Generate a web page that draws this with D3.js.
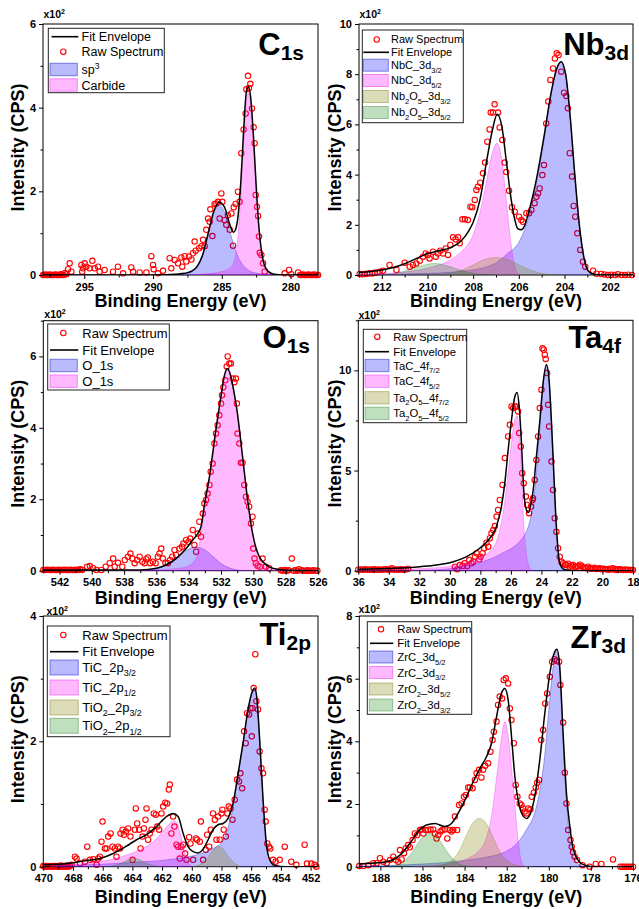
<!DOCTYPE html>
<html><head><meta charset="utf-8">
<script src="https://cdn.jsdelivr.net/npm/d3@7"></script>
<style>
body{margin:0;background:#fff;}
svg{display:block;font-family:"Liberation Sans",Arial,Helvetica,sans-serif;}
</style></head><body>
<svg id="chart" width="639" height="909"></svg>
<script>
// ---------------- DATA ----------------
// C 1s
const c1sXTicks = [295, 290, 285, 280];
const c1sYTicks = [0, 2, 4, 6];
const c1sFit = [[298,0],[291,0],[289,0.005],[288.3,0.02],[287.7,0.04],[287.2,0.09],[286.8,0.2],[286.4,0.47],[286.0,0.98],[285.6,1.5],[285.2,1.74],[284.8,1.62],[284.5,1.3],[284.3,1.1],[284.15,1.02],[284.0,1.08],[283.8,1.45],[283.6,2.3],[283.4,3.5],[283.2,4.4],[283.05,4.5],[282.9,4.25],[282.7,3.35],[282.5,2.15],[282.3,1.15],[282.1,0.55],[281.9,0.24],[281.6,0.08],[281.2,0.02],[280.5,0],[278,0]];
const c1sSp3 = [[291,0],[289,0.005],[288.3,0.015],[287.7,0.035],[287.2,0.08],[286.8,0.18],[286.4,0.45],[286.0,0.95],[285.6,1.45],[285.2,1.67],[284.8,1.5],[284.5,1.15],[284.2,0.8],[283.9,0.5],[283.6,0.3],[283.2,0.15],[282.8,0.07],[282.2,0.03],[281.4,0.01],[280.5,0]];
const c1sCarbide = [[287.5,0],[286.5,0.02],[285.5,0.05],[284.8,0.1],[284.3,0.2],[284.0,0.45],[283.8,1.0],[283.6,2.0],[283.4,3.2],[283.2,4.2],[283.05,4.35],[282.9,4.1],[282.7,3.25],[282.5,2.1],[282.3,1.1],[282.1,0.5],[281.9,0.2],[281.6,0.06],[281.2,0.01],[280.5,0]];
const c1sRaw = [[298,0],[297.9,0],[297.8,0.01],[297.7,0],[297.6,0],[297.5,0.01],[297.4,0],[297.3,0],[297.2,0],[297.1,0.01],[297,0],[296.9,0],[296.8,0],[296.7,0.02],[296.6,0],[296.5,0],[296.4,0.05],[296.3,0.02],
[296.06,0.28],[296.18,0.14],[295.94,0.08],[295.21,0.24],[295.09,0.16],[294.97,0.28],[295.15,0.08],[294.85,0.2],[294.61,0.16],[294.41,0.34],[294.24,0.16],[294.0,0.2],[293.88,0.08],[293.52,0.12],[292.91,0.08],[292.55,0.2],[292.18,0.04],[291.58,0.18],[291.45,0.08],[290.97,0.06],[290.48,0.06],[290.12,0.45],[290.0,0.24],[289.95,0.14],[289.64,0.04],[289.27,0.1],[288.79,0.4],[288.67,0.16],[288.42,0.36],[288.18,0.28],[287.94,0.42],[287.87,0.2],[287.7,0.45],[287.58,0.32],[287.38,0.44],[287.21,0.37],[287.09,0.52],[286.97,0.8],[286.9,0.58],[286.65,0.64],[286.48,0.69],[286.36,0.84],[286.24,0.69],[286.12,1.08],[286.0,1.35],[285.88,1.27],[285.83,1.57],[285.68,0.93],[285.52,1.7],[285.39,1.71],[285.27,1.75],[285.15,1.35],[285.03,1.95],[284.96,1.75],[284.79,1.31],[284.67,1.2],[284.55,1.43],[284.42,1.08],[284.3,1.47],[284.18,0.7],[284.13,1.62],[283.99,1.7],[283.82,1.99],[283.7,1.75],[283.58,2.91],[283.41,3.48],[283.26,3.86],[283.21,4.44],[283.09,4.76],[283.02,4.47],[282.92,4.57],[282.8,3.98],[282.68,3.53],[282.61,3.15],[282.53,1.91],[282.44,1.63],[282.36,1.41],[282.29,0.92],[282.24,0.53],[282.12,0.48],[282.0,0.28],[281.88,0.08],[280.42,0.04],[280.1,0.12],[279.94,0.02],[279.45,0.06],
[279.3,0],[279.2,0],[279.1,0.01],[279,0],[278.9,0],[278.8,0],[278.7,0.01],[278.6,0],[278.5,0],[278.4,0],[278.3,0.01],[278.2,0],[278.1,0],[278,0]];
const c1sLabels = [[['Fit Envelope']],[['Raw Spectrum']],[['sp'],['3','sup']],[['Carbide']]];

// Nb 3d
const nbXTicks = [212, 210, 208, 206, 204, 202];
const nbYTicks = [0, 2, 4, 6, 8, 10];
const nbFit = [[213,0.1],[212.5,0.14],[212,0.2],[211.5,0.3],[211,0.45],[210.5,0.65],[210,0.85],[209.5,0.97],[209,1.08],[208.5,1.38],[208.2,1.75],[208,2.1],[207.7,3.0],[207.4,4.6],[207.15,5.8],[206.95,6.4],[206.75,5.95],[206.55,4.55],[206.35,3.1],[206.2,2.3],[206.05,1.85],[205.9,1.8],[205.75,1.95],[205.6,2.4],[205.2,3.95],[204.9,5.5],[204.6,7.2],[204.35,8.2],[204.15,8.5],[203.95,8.0],[203.75,6.3],[203.55,4.0],[203.35,2.0],[203.15,0.7],[202.95,0.15],[202.7,0.03],[202.3,0],[201,0]];
const nbNbC32 = [[212,0.02],[210.5,0.05],[209.5,0.08],[208.5,0.15],[207.5,0.3],[207,0.48],[206.5,0.85],[206,1.3],[205.6,2.2],[205.2,3.8],[204.9,5.4],[204.6,7.15],[204.35,8.2],[204.15,8.5],[203.95,8.0],[203.75,6.3],[203.55,4.0],[203.35,2.0],[203.15,0.7],[202.95,0.15],[202.7,0.02],[202.3,0]];
const nbNbC52 = [[213,0.02],[212.5,0.03],[211.5,0.08],[210.5,0.18],[210,0.27],[209.5,0.4],[209,0.6],[208.5,0.95],[208,1.6],[207.7,2.5],[207.4,3.8],[207.15,4.9],[206.95,5.25],[206.75,4.6],[206.55,3.0],[206.35,1.3],[206.2,0.4],[206.05,0.05],[205.9,0]];
const nbOx32 = [[210,0],[209.5,0.01],[209,0.06],[208.5,0.2],[208,0.4],[207.5,0.62],[207,0.7],[206.5,0.62],[206,0.4],[205.5,0.2],[205,0.06],[204.5,0.01],[204,0]];
const nbOx52 = [[212.5,0],[212,0.01],[211.5,0.05],[211,0.15],[210.5,0.3],[210,0.43],[209.7,0.46],[209.4,0.43],[208.9,0.3],[208.4,0.15],[207.9,0.05],[207.4,0.01],[207,0]];
const nbRaw = [[212.97,0.04],[212.86,0.03],[212.75,0.04],[212.64,0.05],[212.53,0.07],[212.42,0.06],[212.31,0.09],[212.2,0.1],[212.09,0.13],[211.95,0.17],[211.66,0.4],[211.36,0.2],[211.0,0.49],[210.78,0.33],[210.64,0.4],[210.49,0.46],[210.34,0.57],[210.2,0.73],[210.08,0.86],[209.98,0.8],[209.91,0.66],[209.76,0.93],[209.64,0.73],[209.54,0.86],[209.44,0.97],[209.32,0.86],[209.2,1.06],[209.1,0.8],[209.0,1.2],[208.88,1.5],[208.77,1.42],[208.66,1.5],[208.59,1.26],[208.47,2.22],[208.36,2.22],[208.23,2.19],[208.12,2.72],[208.04,2.7],[207.93,2.99],[207.86,3.39],[207.79,3.52],[207.69,3.68],[207.57,4.05],[207.48,4.48],[207.38,5.31],[207.28,5.8],[207.23,6.47],[207.13,6.47],[207.06,6.8],[206.91,6.47],[206.84,5.88],[206.72,5.38],[206.62,4.48],[206.55,4.1],[206.43,3.36],[206.3,2.7],[206.18,2.52],[205.99,2.32],[205.89,2.19],[205.82,2.12],[205.67,2.46],[205.55,2.46],[205.45,2.59],[205.31,2.86],[205.23,3.12],[205.16,3.25],[205.09,3.45],[204.97,3.98],[204.9,4.38],[204.8,6.04],[204.71,6.91],[204.62,7.77],[204.5,8.23],[204.42,8.63],[204.34,8.83],[204.26,8.76],[204.14,8.1],[204.02,7.26],[203.92,7.13],[203.85,6.64],[203.77,4.85],[203.67,3.92],[203.6,2.75],[203.53,2.32],[203.44,1.66],[203.31,1.0],[203.19,0.53],[203.09,0.33],[202.75,0.17],[202.6,0.05],[202.39,0.04],[202.25,0.02],[202.1,0],[201.95,0.01],[201.8,0],[201.66,0.03],[201.5,0],[201.35,0],[201.2,0.01],[201.05,0]];
const nbLabels = [[['Raw Spectrum']],[['Fit Envelope']],[['NbC_3d'],['3/2','sub']],[['NbC_3d'],['5/2','sub']],[['Nb'],['2','sub'],['O'],['5','sub'],['_3d'],['3/2','sub']],[['Nb'],['2','sub'],['O'],['5','sub'],['_3d'],['5/2','sub']]];

// O 1s
const oXTicks = [542, 540, 538, 536, 534, 532, 530, 528, 526];
const oYTicks = [0, 2, 4, 6];
const oFit = [[543,0.02],[537,0.02],[536,0.07],[535.4,0.16],[534.78,0.34],[534.16,0.62],[533.75,0.86],[533.44,1.04],[533.24,1.23],[533.03,1.84],[532.72,2.63],[532.31,3.98],[532.0,4.9],[531.8,5.45],[531.6,5.66],[531.4,5.45],[531.2,5.0],[531.0,4.45],[530.67,3.2],[530.36,2.0],[530.05,1.05],[529.64,0.4],[529.02,0.11],[528.5,0.04],[527.8,0.01],[526,0]];
const oPeakA = [[537,0],[536.3,0.03],[535.8,0.08],[535.3,0.2],[534.8,0.36],[534.3,0.52],[533.8,0.64],[533.5,0.66],[533.0,0.58],[532.5,0.4],[532,0.2],[531.5,0.08],[531,0.02],[530.5,0]];
const oPeakB = [[538,0],[537,0.01],[536,0.02],[535,0.05],[534.2,0.1],[533.6,0.3],[533.35,0.7],[533.15,1.3],[532.95,1.95],[532.72,2.55],[532.31,3.9],[532.0,4.85],[531.8,5.4],[531.6,5.62],[531.4,5.43],[531.2,5.0],[531.0,4.45],[530.67,3.2],[530.36,2.0],[530.05,1.05],[529.64,0.4],[529.02,0.11],[528.5,0.04],[527.8,0]];
const oRaw = [[543,0.02],[542.88,0.02],[542.76,0.03],[542.64,0.02],[542.52,0.02],[542.4,0.03],[542.28,0.02],[542.16,0.02],[542.04,0.03],[541.92,0.02],[541.8,0.02],[541.68,0.03],[541.56,0.02],[541.44,0.02],[541.32,0.03],[541.2,0.02],[541.08,0.02],[540.96,0.03],[540.84,0.02],[540.72,0.04],[540.6,0.02],
[540.29,0.11],[540.12,0.13],[539.92,0.07],[539.71,0.02],[539.4,0.02],[539.14,0.11],[538.89,0.21],[538.68,0.34],[538.58,0.11],[538.38,0.22],[538.11,0.11],[537.96,0.3],[537.76,0.39],[537.61,0.48],[537.49,0.34],[537.35,0.21],[537.2,0.3],[537.04,0.39],[536.87,0.25],[536.73,0.21],[536.63,0.32],[536.53,0.37],[536.38,0.21],[536.22,0.25],[536.05,0.21],[535.91,0.39],[535.81,0.48],[535.7,0.62],[535.6,0.34],[535.44,0.22],[535.29,0.21],[535.15,0.3],[535.02,0.39],[534.88,0.58],[534.78,0.44],[534.57,0.62],[534.41,0.67],[534.33,0.76],[534.16,0.86],[534.0,0.81],[533.91,0.9],[533.75,1.14],[533.65,0.72],[533.54,0.53],[533.44,1.04],[533.34,1.37],[533.24,0.95],[533.13,1.6],[533.03,1.88],[532.93,1.98],[532.83,2.16],[532.72,2.4],[532.64,2.77],[532.52,3.0],[532.41,3.56],[532.31,3.84],[532.21,4.07],[532.11,4.35],[532.0,4.68],[531.94,4.91],[531.86,5.14],[531.74,5.33],[531.65,5.72],[531.59,6.0],[531.49,5.8],[531.39,5.8],[531.28,5.38],[531.18,5.28],[531.08,5.38],[531.02,4.68],[530.98,3.84],[530.87,3.56],[530.77,3.02],[530.67,3.02],[530.56,2.4],[530.46,2.07],[530.36,1.93],[530.26,1.79],[530.15,1.32],[530.05,1.51],[530.01,0.62],[529.93,0.34],[529.85,0.21],[529.74,0.14],[529.6,0.11],[529.43,0.34],[529.23,0.11],[529.02,0.07],[527.62,0.34],
[528.3,0.01],[528.18,0],[528.06,0.02],[527.94,0],[527.82,0.01],[527.5,0],[527.38,0.02],[527.26,0],[527.17,0.04],[527.02,0.01],[526.9,0],[526.76,0],[526.64,0.01],[526.52,0],[526.4,0],[526.28,0.01],[526.16,0],[526.04,0]];
const oLabels = [[['Raw Spectrum']],[['Fit Envelope']],[['O_1s']],[['O_1s']]];

// Ta 4f
const taXTicks = [36, 34, 32, 30, 28, 26, 24, 22, 20, 18];
const taYTicks = [0, 5, 10];
const taFit = [[36,0.07],[33.5,0.12],[31.96,0.2],[30.87,0.28],[29.78,0.45],[28.9,0.7],[28.04,1.12],[27.38,1.62],[26.95,2.2],[26.62,3.2],[26.4,4.37],[26.18,6.03],[25.96,7.53],[25.74,8.7],[25.59,8.9],[25.46,8.2],[25.31,6.37],[25.16,4.03],[24.98,3.03],[24.85,2.9],[24.72,3.2],[24.54,4.03],[24.33,5.7],[24.1,7.53],[23.89,9.37],[23.67,10.28],[23.5,9.53],[23.34,7.37],[23.19,4.87],[23.02,2.2],[22.89,0.87],[22.76,0.28],[22.54,0.07],[21.93,0],[18,0]];
const taTaC72 = [[32,0.02],[31,0.04],[30,0.1],[29,0.22],[28,0.42],[27,0.7],[26.5,0.9],[26,1.1],[25.5,1.4],[25,1.95],[24.8,2.35],[24.6,3.1],[24.4,4.3],[24.2,6.2],[24.0,8.3],[23.85,9.6],[23.67,10.28],[23.5,9.5],[23.34,7.37],[23.19,4.87],[23.02,2.2],[22.89,0.87],[22.76,0.28],[22.54,0.05],[22.3,0]];
const taTaC52 = [[36,0.02],[34,0.04],[32,0.1],[30.87,0.15],[29.78,0.25],[28.9,0.42],[28.04,0.68],[27.38,0.97],[26.95,1.45],[26.62,2.4],[26.4,3.45],[26.18,4.9],[25.96,6.4],[25.74,7.55],[25.59,7.75],[25.46,6.9],[25.31,5.0],[25.16,2.3],[25.0,0.9],[24.85,0.3],[24.7,0.05],[24.5,0]];
const taRaw = [[36,0.05],[35.85,0.06],[35.7,0.05],[35.55,0.07],[35.4,0.05],[35.25,0.06],[35.1,0.05],[34.95,0.07],[34.8,0.05],[34.65,0.06],[34.5,0.05],[34.35,0.06],[34.2,0.07],[34.05,0.05],[33.9,0.06],[33.8,0.12],[33.65,0.05],[33.5,0.06],[33.35,0.05],[33.2,0.07],[33.05,0.05],[32.9,0.06],[32.74,0.1],
[29.67,0.2],[29.52,0.07],[29.35,0.28],[29.17,0.23],[29.02,0.37],[28.87,0.23],[28.73,0.53],[28.58,0.37],[28.47,0.45],[28.36,0.7],[28.25,0.87],[28.08,0.57],[27.99,0.7],[27.86,0.87],[27.75,1.12],[27.6,1.4],[27.49,1.2],[27.38,1.62],[27.27,1.87],[27.16,2.03],[27.05,2.23],[26.94,2.7],[26.84,3.03],[26.73,3.53],[26.55,4.28],[26.4,5.62],[26.18,6.7],[26.07,7.28],[25.96,8.2],[25.85,8.12],[25.74,8.2],[25.64,8.2],[25.53,7.95],[25.46,6.87],[25.35,6.2],[25.26,4.87],[25.16,4.37],[25.02,3.7],[24.94,3.28],[24.81,2.87],[24.68,3.2],[24.59,3.53],[24.55,3.62],[24.44,4.53],[24.33,5.53],[24.22,6.7],[24.11,8.12],[24.0,9.03],[23.93,11.1],[23.85,11.03],[23.78,10.78],[23.72,10.57],[23.63,9.87],[23.56,8.28],[23.5,7.2],[23.34,5.45],[23.24,4.03],[23.13,2.62],[23.02,1.95],[22.91,1.12],[22.8,0.7],[22.69,0.45],[22.58,0.37],[22.47,0.3],
[22.36,0.28],[22.25,0.35],[22.14,0.2],[22.03,0.25],[21.93,0.28],[21.82,0.18],[21.71,0.2],[21.6,0.22],[21.49,0.3],[21.38,0.25],[21.27,0.17],[21.16,0.15],[21.05,0.12],[20.94,0.2],[20.83,0.12],[20.72,0.1],[20.62,0.12],[20.51,0.15],[20.4,0.08],[20.29,0.1],[20.18,0.12],[20.07,0.07],[19.96,0.1],[19.85,0.08],[19.74,0.07],[19.63,0.05],[19.52,0.1],[19.42,0.06],[19.31,0.12],[19.2,0.06],[19.09,0.04],[18.98,0.07],[18.87,0.07],[18.76,0.05],[18.65,0.04],[18.54,0.06],[18.43,0.03],[18.32,0.05],[18.21,0.03],[18.1,0.04],[18.0,0.03]];
const taLabels = [[['Raw Spectrum']],[['Fit Envelope']],[['TaC_4f'],['7/2','sub']],[['TaC_4f'],['5/2','sub']],[['Ta'],['2','sub'],['O'],['5','sub'],['_4f'],['7/2','sub']],[['Ta'],['2','sub'],['O'],['5','sub'],['_4f'],['5/2','sub']]];

// Ti 2p
const tiXTicks = [470, 468, 466, 464, 462, 460, 458, 456, 454, 452];
const tiYTicks = [0, 2, 4];
const tiFit = [[470,0.03],[468.43,0.05],[467.09,0.1],[466.19,0.13],[465.29,0.21],[464.39,0.33],[463.72,0.43],[463.05,0.51],[462.38,0.64],[461.7,0.8],[461.26,0.85],[460.92,0.8],[460.58,0.53],[460.25,0.32],[459.91,0.24],[459.57,0.22],[459.24,0.28],[458.9,0.43],[458.57,0.59],[458.23,0.67],[457.89,0.69],[457.56,0.77],[457.22,1.01],[456.88,1.49],[456.55,1.97],[456.21,2.51],[455.92,2.8],[455.76,2.85],[455.61,2.67],[455.43,2.03],[455.2,1.07],[454.98,0.37],[454.75,0.11],[454.42,0.02],[453.63,0],[451.5,0]];
const tiTiC32 = [[469,0.02],[466,0.04],[464,0.07],[462,0.1],[460.5,0.15],[459.5,0.2],[458.5,0.3],[458,0.38],[457.56,0.62],[457.22,0.95],[456.9,1.42],[456.55,1.95],[456.21,2.5],[455.92,2.78],[455.76,2.84],[455.61,2.67],[455.43,2.03],[455.2,1.07],[454.98,0.37],[454.75,0.11],[454.42,0.02],[454,0]];
const tiTiC12 = [[469.5,0.01],[468,0.03],[467,0.06],[466,0.09],[465,0.14],[464,0.22],[463.5,0.27],[463,0.33],[462.5,0.42],[462,0.55],[461.6,0.66],[461.25,0.73],[461.0,0.7],[460.8,0.55],[460.55,0.3],[460.3,0.1],[460.1,0.02],[459.9,0]];
const tiOx32 = [[460,0],[459.5,0.03],[459,0.12],[458.6,0.25],[458.25,0.33],[457.9,0.28],[457.5,0.15],[457.1,0.05],[456.7,0]];
const tiOx12 = [[466,0],[465.2,0.02],[464.7,0.06],[464.3,0.11],[463.9,0.13],[463.5,0.11],[463.1,0.06],[462.6,0.02],[462,0]];
const tiRaw = [[470,0.01],[469.9,0],[469.8,0.01],[469.7,0],[469.6,0.01],[469.5,0],[469.4,0.01],[469.3,0],[469.2,0.01],[469.1,0],[469,0.01],[468.9,0],[468.8,0.02],[468.7,0],[468.6,0.01],[468.5,0],[468.4,0.02],[468.3,0],[468.2,0.01],[468.1,0.03],
[467.87,0.16],[467.76,0.13],[467.53,0.05],[467.2,0.08],[467.04,0.32],[466.86,0.11],[466.64,0.12],[466.41,0.03],[466.3,0.13],[466.19,0.16],[466.08,0.4],[466.01,0.72],[465.85,0.29],[465.74,0.29],[465.63,0.48],[465.47,0.53],[465.34,0.32],[465.18,0.29],[465.07,0.16],[464.96,0.32],[464.84,0.29],[464.8,0.53],[464.66,0.59],[464.57,0.51],[464.44,0.56],[464.28,0.61],[464.13,0.48],[463.99,0.11],[463.83,0.59],[463.77,0.93],[463.68,0.69],[463.54,0.59],[463.45,0.29],[463.32,0.48],[463.23,0.61],[463.12,0.75],[463.05,0.93],[462.94,0.43],[462.83,0.53],[462.71,0.59],[462.56,0.85],[462.42,0.83],[462.33,0.64],[462.2,0.59],[462.04,0.85],[461.93,0.96],[461.79,1.02],[461.66,1.01],[461.55,1.23],[461.48,1.31],[461.37,0.53],[461.26,0.8],[461.17,0.64],[461.03,0.35],[460.92,0.32],[460.81,0.13],[460.7,0.32],[460.58,0.35],[460.45,0.21],[460.36,0.11],[460.18,0.47],[460.09,0.37],[459.91,0.11],[459.73,0.45],[459.64,0.43],[459.46,0.4],[459.39,0.72],[459.24,0.11],[459.06,0.27],[458.97,0.51],[458.83,0.32],[458.72,0.59],[458.57,0.85],[458.45,0.75],[458.34,0.43],[458.23,0.8],[458.12,0.43],[458.0,0.85],[457.94,0.91],[457.85,0.59],[457.71,0.48],[457.6,0.85],[457.51,0.96],[457.4,0.93],[457.26,0.75],[457.11,1.07],[456.95,1.39],[456.82,1.36],[456.73,1.49],[456.61,1.25],[456.48,2.16],[456.37,1.97],[456.28,2.45],[456.14,2.43],[456.05,2.53],[455.96,2.08],[455.92,2.53],[455.83,2.85],[455.72,3.39],[455.65,2.64],[455.54,2.51],[455.43,1.84],[455.31,1.57],[455.2,1.49],[455.09,0.91],[455.02,0.72],[454.91,0.37],[454.8,0.32],[454.71,0.29],[454.53,0.11],[454.35,0.08],[454.08,0.11],[453.74,0.32],[453.3,0.08],[452.96,0.03],[452.4,0.35],[452.24,0.05],[451.95,0.05],[451.73,0.03],[451.61,0]];
const tiLabels = [[['Raw Spectrum']],[['Fit Envelope']],[['TiC_2p'],['3/2','sub']],[['TiC_2p'],['1/2','sub']],[['TiO'],['2','sub'],['_2p'],['3/2','sub']],[['TiO'],['2','sub'],['_2p'],['1/2','sub']]];

// Zr 3d
const zrXTicks = [188, 186, 184, 182, 180, 178, 176];
const zrYTicks = [0, 2, 4, 6, 8];
const zrFit = [[189,0.09],[187.7,0.16],[187.07,0.37],[186.6,0.74],[186.2,1.12],[185.81,1.33],[185.41,1.38],[184.94,1.28],[184.62,1.38],[184.22,1.81],[183.91,2.23],[183.59,2.71],[183.27,3.14],[182.96,3.51],[182.72,3.94],[182.48,4.79],[182.25,5.53],[182.09,5.69],[181.93,5.32],[181.77,4.15],[181.61,2.87],[181.41,1.97],[181.22,1.62],[181.06,1.54],[180.87,1.7],[180.67,2.23],[180.43,3.4],[180.19,4.89],[179.95,6.17],[179.72,6.86],[179.61,6.94],[179.48,6.38],[179.32,4.26],[179.16,2.34],[179.0,1.28],[178.85,0.59],[178.61,0.21],[178.29,0.05],[177.74,0],[176,0]];
const zrZrC52 = [[189,0.02],[188,0.03],[186.5,0.07],[185,0.13],[184,0.2],[183,0.3],[182,0.5],[181.5,0.75],[181,1.25],[180.7,1.65],[180.45,2.35],[180.2,3.5],[180.0,5.0],[179.8,6.35],[179.64,6.94],[179.5,6.45],[179.35,4.4],[179.2,2.5],[179.05,1.15],[178.9,0.5],[178.75,0.2],[178.5,0.04],[178.2,0]];
const zrZrC32 = [[186.5,0],[186,0.02],[185.3,0.05],[184.5,0.12],[183.8,0.28],[183.4,0.45],[183.0,0.85],[182.7,1.7],[182.45,3.0],[182.25,4.1],[182.08,4.63],[181.9,4.0],[181.75,3.0],[181.6,1.9],[181.45,0.8],[181.3,0.15],[181.15,0.02],[181,0]];
const zrOx52 = [[186,0],[185.2,0.03],[184.7,0.15],[184.3,0.45],[183.95,0.95],[183.6,1.4],[183.3,1.54],[183.0,1.4],[182.65,0.95],[182.3,0.45],[181.9,0.15],[181.4,0.03],[180.8,0]];
const zrOx32 = [[188,0],[187.3,0.03],[186.9,0.15],[186.5,0.45],[186.1,0.85],[185.65,1.06],[185.2,0.85],[184.8,0.45],[184.4,0.15],[184.0,0.03],[183.5,0]];
const zrRaw = [[189.0,0.02],[188.81,0.02],[188.57,0.05],[188.34,0.11],[188.18,0.11],[188.02,0.27],[187.86,0.16],[187.7,0.11],[187.54,0.21],[187.39,0.32],[187.26,0.21],[187.15,0.16],[187.07,0.53],[186.99,0.23],[186.88,0.43],[186.79,0.59],[186.68,0.69],[186.6,0.62],[186.47,0.85],[186.36,1.06],[186.25,1.01],[186.12,1.17],[186.04,1.19],[185.96,1.06],[185.84,1.17],[185.73,1.17],[185.62,1.19],[185.49,1.19],[185.41,1.06],[185.33,0.9],[185.25,1.01],[185.14,1.12],[185.05,1.17],[184.94,1.19],[184.82,0.9],[184.7,1.17],[184.62,1.12],[184.54,1.17],[184.46,1.6],[184.35,1.17],[184.26,1.97],[184.14,2.02],[184.03,2.23],[183.94,2.29],[183.83,2.53],[183.75,2.53],[183.62,2.5],[183.51,2.77],[183.43,2.98],[183.31,3.09],[183.2,2.85],[183.12,3.09],[183.02,3.22],[182.88,3.3],[182.77,3.67],[182.67,4.04],[182.61,4.31],[182.48,4.63],[182.41,5.16],[182.33,5.43],[182.22,5.37],[182.14,5.96],[182.04,6.01],[181.93,5.85],[181.85,5.05],[181.77,4.68],[181.66,3.94],[181.57,2.61],[181.49,2.23],[181.38,2.02],[181.3,1.97],[181.22,1.86],[181.14,1.76],[181.06,1.7],[180.98,1.86],[180.87,1.83],[180.81,2.23],[180.71,2.36],[180.62,2.53],[180.55,2.68],[180.46,2.77],[180.36,4.04],[180.27,4.36],[180.17,5.21],[180.08,5.53],[179.95,6.06],[179.84,6.54],[179.73,6.62],[179.62,6.57],[179.51,6.54],[179.45,5.8],[179.32,4.6],[179.24,3.0],[179.16,2.02],[179.08,1.17],[178.97,0.85],[178.91,0.64],[178.85,0.46],[178.77,0.32],[178.66,0.21],[178.4,0.05],[178.06,0],[177.77,0.09],[177.5,0.09],[176.95,0.23],[176.6,0],[176.5,0],[176.4,0],[176.3,0],[176.2,0],[176.1,0],[176.0,0]];
const zrLabels = [[['Raw Spectrum']],[['Fit Envelope']],[['ZrC_3d'],['5/2','sub']],[['ZrC_3d'],['3/2','sub']],[['ZrO'],['2','sub'],['_3d'],['5/2','sub']],[['ZrO'],['2','sub'],['_3d'],['3/2','sub']]];

const xAxisTitle = 'Binding Energy (eV)';
const yAxisTitle = 'Intensity (CPS)';

// ---------------- STYLE ----------------
const FILL = {blue:'rgba(0,0,255,0.27)', pink:'rgba(255,0,255,0.27)', olive:'rgba(128,128,0,0.28)', green:'rgba(0,128,0,0.25)'};
const EDGE = {blue:'rgba(0,0,200,0.45)', pink:'rgba(230,0,230,0.4)', olive:'rgba(110,110,0,0.4)', green:'rgba(0,110,0,0.35)'};

const panels = [
 {left:43, top:24, w:275, h:251, xd:[298,278], yd:[0,6], xt:c1sXTicks, xm:2.5, yt:c1sYTicks, ym:1,
  fit:c1sFit, raw:c1sRaw, comps:[[c1sSp3,'blue'],[c1sCarbide,'pink']],
  title:['C','1s'], tx:304, ty:55, xtY:307, ytX:23.5, mult:[43.5,18],
  leg:{box:[48.3,28.3,164.3,92.7], fs:12.5, lx:[51.5,78.3], cx:63.3, tx:81.5, ph:12.5, px:[50,77.3],
       rows:[['line',36.7],['circle',51.7],['patch',69.5,'blue'],['patch',85,'pink']], labels:c1sLabels}},
 {left:359, top:24, w:274, h:251, xd:[213,201], yd:[0,10], xt:nbXTicks, xm:1, yt:nbYTicks, ym:1,
  fit:nbFit, raw:nbRaw, comps:[[nbNbC32,'blue'],[nbNbC52,'pink'],[nbOx32,'olive'],[nbOx52,'green']],
  title:['Nb','3d'], tx:629, ty:55, xtY:307, ytX:341, mult:[359.5,18],
  leg:{box:[362.3,30,463.3,122.7], fs:11, lx:[363.3,389], cx:376.7, tx:391, ph:12, px:[363.3,388.3],
       rows:[['circle',39.5],['line',52.3],['patch',65.2,'blue'],['patch',80.5,'pink'],['patch',96.5,'olive'],['patch',112.5,'green']], labels:nbLabels}},
 {left:43.3, top:320.7, w:274.7, h:250, xd:[543,526], yd:[0,7], xt:oXTicks, xm:1, yt:oYTicks, ym:1,
  fit:oFit, raw:oRaw, comps:[[oPeakA,'blue'],[oPeakB,'pink']],
  title:['O','1s'], tx:310, ty:348.3, xtY:603.5, ytX:23.5, mult:[44.3,318],
  leg:{box:[47.7,324,169.3,390], fs:13, lx:[50,78.3], cx:63.3, tx:82.3, ph:12.5, px:[50,77.3],
       rows:[['circle',333],['line',350],['patch',365.5,'blue'],['patch',381.2,'pink']], labels:oLabels}},
 {left:358.3, top:320.3, w:274.7, h:250.4, xd:[36,18], yd:[0,12.5], xt:taXTicks, xm:1, yt:taYTicks, ym:2.5,
  fit:taFit, raw:taRaw, comps:[[taTaC72,'blue'],[taTaC52,'pink']],
  title:['Ta','4f'], tx:621, ty:348.3, xtY:603.5, ytX:341, mult:[358.5,318.5],
  leg:{box:[363.3,329.3,466.7,422.7], fs:11.3, lx:[365,389], cx:377.3, tx:393.3, ph:12.3, px:[365,389],
       rows:[['circle',336.7],['line',351.7],['patch',365.5,'blue'],['patch',381.2,'pink'],['patch',397.8,'olive'],['patch',413.3,'green']], labels:taLabels}},
 {left:43.3, top:616, w:274.7, h:250.7, xd:[470,451.5], yd:[0,4], xt:tiXTicks, xm:1, yt:tiYTicks, ym:1,
  fit:tiFit, raw:tiRaw, comps:[[tiTiC32,'blue'],[tiTiC12,'pink'],[tiOx32,'olive'],[tiOx12,'green']],
  title:['Ti','2p'], tx:311, ty:645, xtY:903, ytX:23.5, mult:[46.5,615],
  leg:{box:[47.3,626,170,736.7], fs:13, lx:[50,78.3], cx:63.3, tx:82.3, ph:15, px:[50,78.3],
       rows:[['circle',635],['line',651.7],['patch',667.5,'blue'],['patch',687.5,'pink'],['patch',707.5,'olive'],['patch',725.8,'green']], labels:tiLabels}},
 {left:359.3, top:616, w:273.7, h:250.7, xd:[189,176], yd:[0,8], xt:zrXTicks, xm:1, yt:zrYTicks, ym:1,
  fit:zrFit, raw:zrRaw, comps:[[zrZrC52,'blue'],[zrZrC32,'pink'],[zrOx52,'olive'],[zrOx32,'green']],
  title:['Zr','3d'], tx:626, ty:648.3, xtY:903, ytX:341, mult:[358.5,613],
  leg:{box:[367.3,621.7,471.7,714.3], fs:11.3, lx:[370,393.3], cx:381, tx:397.3, ph:12, px:[369.3,392.7],
       rows:[['circle',629.3],['line',643.3],['patch',657,'blue'],['patch',672.5,'pink'],['patch',689,'olive'],['patch',705,'green']], labels:zrLabels}}
];

const svg = d3.select('#chart');
svg.append('rect').attr('width',639).attr('height',909).attr('fill','#fff');

function addSegs(textSel, segs, size){
  let shift = 0;
  segs.forEach(s => {
    const kind = s[1] || 'n';
    const target = kind === 'sub' ? size*0.32 : (kind === 'sup' ? -size*0.42 : 0);
    const t = textSel.append('tspan').text(s[0]).attr('dy', (target - shift).toFixed(2));
    if (kind !== 'n') t.attr('font-size', (size*0.68).toFixed(2));
    shift = target;
  });
}

panels.forEach((p, i) => {
  const g = svg.append('g').attr('transform', `translate(${p.left},${p.top})`);
  const x = d3.scaleLinear().domain(p.xd).range([0, p.w]);
  const y = d3.scaleLinear().domain(p.yd).range([p.h, 0]);
  const clipId = 'clip' + i;
  svg.append('clipPath').attr('id', clipId).append('rect')
     .attr('x', p.left).attr('y', p.top).attr('width', p.w).attr('height', p.h);
  const plot = svg.append('g').attr('clip-path', `url(#${clipId})`)
     .append('g').attr('transform', `translate(${p.left},${p.top})`);

  const sortDesc = arr => arr.slice().sort((a,b) => b[0]-a[0]);
  const area = d3.area().x(d => x(d[0])).y0(y(0)).y1(d => y(d[1])).curve(d3.curveMonotoneX);
  const line = d3.line().x(d => x(d[0])).y(d => y(d[1])).curve(d3.curveMonotoneX);

  p.comps.forEach(([data, col]) => {
    plot.append('path').datum(sortDesc(data)).attr('d', area)
      .attr('fill', FILL[col]).attr('stroke', EDGE[col]).attr('stroke-width', 0.7);
  });
  plot.append('path').datum(sortDesc(p.fit)).attr('d', line)
    .attr('fill', 'none').attr('stroke', '#000').attr('stroke-width', 1.5);

  // raw spectrum
  g.append('g').selectAll('circle').data(p.raw).join('circle')
    .attr('cx', d => x(d[0])).attr('cy', d => y(d[1])).attr('r', 2.7)
    .attr('fill', 'none').attr('stroke', '#ff0000').attr('stroke-width', 1.1);

  // frame
  g.append('rect').attr('width', p.w).attr('height', p.h).attr('fill', 'none')
    .attr('stroke', '#000').attr('stroke-width', 1);

  // axes
  const fmt = d3.format('d');
  const xMin = Math.min(...p.xd), xMax = Math.max(...p.xd);
  const xMinor = d3.range(Math.ceil(xMin/p.xm)*p.xm, xMax + 1e-9, p.xm).filter(v => !p.xt.some(t => Math.abs(t-v) < 1e-6));
  const yMinor = d3.range(p.ym, p.yd[1] + 1e-9, p.ym).filter(v => !p.yt.some(t => Math.abs(t-v) < 1e-6));

  g.append('g').attr('transform', `translate(0,${p.h})`)
    .call(d3.axisBottom(x).tickValues(p.xt).tickFormat(fmt).tickSize(4).tickSizeOuter(0).tickPadding(4));
  g.append('g').attr('transform', `translate(0,${p.h})`)
    .call(d3.axisBottom(x).tickValues(xMinor).tickFormat('').tickSize(2.5).tickSizeOuter(0));
  g.append('g')
    .call(d3.axisLeft(y).tickValues(p.yt).tickFormat(fmt).tickSize(4).tickSizeOuter(0).tickPadding(3));
  g.append('g')
    .call(d3.axisLeft(y).tickValues(yMinor).tickFormat('').tickSize(2.5).tickSizeOuter(0));
  g.selectAll('.domain').remove();
  g.selectAll('.tick line').attr('stroke', '#000').attr('stroke-width', 1);
  g.selectAll('.tick text').attr('font-family', '"Liberation Sans",Arial,sans-serif')
    .attr('font-weight', 'bold').attr('font-size', 11).attr('fill', '#000');

  // multiplier
  const mt = svg.append('text').attr('x', p.mult[0]).attr('y', p.mult[1])
    .attr('font-weight', 'bold').attr('font-size', 10.5).attr('fill', '#000');
  mt.append('tspan').text('x10');
  mt.append('tspan').text('2').attr('font-size', 7).attr('dy', -4);

  // title
  const tt = svg.append('text').attr('x', p.tx).attr('y', p.ty).attr('text-anchor', 'end')
    .attr('font-weight', 'bold').attr('font-size', 31).attr('fill', '#000');
  tt.append('tspan').text(p.title[0]);
  tt.append('tspan').text(p.title[1]).attr('font-size', 21).attr('dy', 5);

  // axis titles
  svg.append('text').attr('x', p.left + p.w/2).attr('y', p.xtY).attr('text-anchor', 'middle')
    .attr('font-weight', 'bold').attr('font-size', 18).attr('fill', '#000').text(xAxisTitle);
  svg.append('text').attr('transform', `translate(${p.ytX},${p.top + p.h/2 - 2}) rotate(-90)`)
    .attr('text-anchor', 'middle').attr('font-weight', 'bold').attr('font-size', 18).attr('fill', '#000').text(yAxisTitle);

  // legend
  const L = p.leg;
  const lg = svg.append('g');
  lg.append('rect').attr('x', L.box[0]).attr('y', L.box[1]).attr('width', L.box[2]-L.box[0]).attr('height', L.box[3]-L.box[1])
    .attr('fill', '#fff').attr('stroke', '#222').attr('stroke-width', 1);
  L.rows.forEach((r, k) => {
    const [kind, yy, col] = r;
    if (kind === 'line') {
      lg.append('line').attr('x1', L.lx[0]).attr('x2', L.lx[1]).attr('y1', yy).attr('y2', yy)
        .attr('stroke', '#000').attr('stroke-width', 1.6);
    } else if (kind === 'circle') {
      lg.append('circle').attr('cx', L.cx).attr('cy', yy).attr('r', 2.7)
        .attr('fill', 'none').attr('stroke', '#ff0000').attr('stroke-width', 1.1);
    } else {
      lg.append('rect').attr('x', L.px[0]).attr('y', yy - L.ph/2).attr('width', L.px[1]-L.px[0]).attr('height', L.ph)
        .attr('fill', FILL[col]).attr('stroke', EDGE[col]).attr('stroke-width', 1);
    }
    const t = lg.append('text').attr('x', L.tx).attr('y', yy + L.fs*0.36)
      .attr('font-size', L.fs).attr('fill', '#000');
    addSegs(t, L.labels[k], L.fs);
  });
});
</script>
</body></html>
